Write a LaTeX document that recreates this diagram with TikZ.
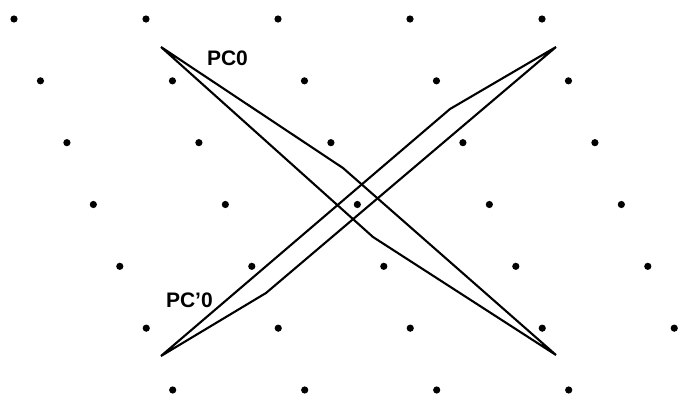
\documentclass[tikz,border=0pt]{standalone}
\usepackage{fontspec}
\setmainfont{Liberation Sans}
\usetikzlibrary{positioning}

\begin{document}
\begin{tikzpicture}[x=1pt,y=-1pt,line width=2.1pt]
\tikzset{pclabel/.style={font=\bfseries\fontsize{21}{24}\selectfont,inner sep=0pt,anchor=base west}}
\useasboundingbox (0,0) rectangle (696,397);
\clip (0,0) rectangle (696,397);
\foreach \j in {0,...,6}
  \foreach \i in {0,...,4}
    \fill ({14+132*\i+26.45*\j},{19+61.83*\j}) circle[radius=3.6pt];
\coordinate (a0) at (161,47);
\coordinate (a1) at (343,168);
\coordinate (a2) at (556,355);
\coordinate (a3) at (373,237);
\coordinate (b0) at (161,356);
\coordinate (b1) at (266,293);
\coordinate (b2) at (556,47);
\coordinate (b3) at (450,109);
\draw (a0) -- (a1) -- (a2) -- (a3) -- cycle;
\draw (b0) -- (b1) -- (b2) -- (b3) -- cycle;
\node[pclabel] (pc) at (206,65) {PC0};
\node[pclabel] (pcp) at (165,307) {PC’0};
\end{tikzpicture}
\end{document}
